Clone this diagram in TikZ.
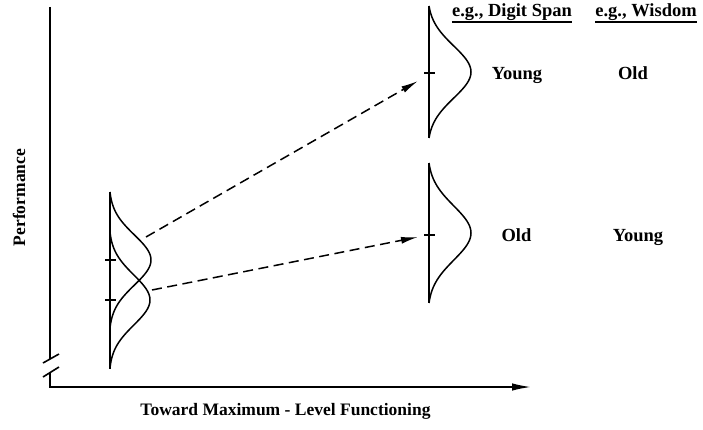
\documentclass[tikz,border=0pt]{standalone}
\usepackage{fontspec}
\setmainfont{Liberation Serif}
\usetikzlibrary{arrows.meta}
\tikzset{
  lab/.style={inner sep=0pt,font=\fontsize{18.5}{21}\selectfont\bfseries},
  axislab/.style={inner sep=0pt,font=\fontsize{17.5}{20}\selectfont\bfseries},
  % frame lines, bell curves and the dashed shifts
  axisline/.style={line width=1.6pt},
  curve/.style={line width=1.5pt,line join=round},
  shiftarr/.style={line width=1.5pt,dash pattern=on 10pt off 5.5pt,
    -{Latex[length=17pt,width=7pt]}},
  rule/.style={line width=1.3pt}
}

\begin{document}
\begin{tikzpicture}[x=1pt,y=-1pt,
  declare function={bell(\t,\s,\r)=(exp(-\t*\t/(2*\s*\s))-exp(-\r*\r/(2*\s*\s)))
    /(1-exp(-\r*\r/(2*\s*\s)));}]
\useasboundingbox (0,0) rectangle (703,430);
% ---------------- axes ----------------
\coordinate (ytop) at (50,7);   \coordinate (ybreak) at (50,359);
\coordinate (yrest) at (50,373); \coordinate (origin) at (50,387);
\coordinate (xend) at (531,387);
\draw[axisline] (ytop) -- (ybreak);
\draw[axisline,-{Latex[length=19pt,width=7.5pt]}] (yrest) -- (origin) -- (xend);
\draw[axisline] (43,363) -- (59,354);
\draw[axisline] (43,377) -- (59,367);
\node[axislab,rotate=90,anchor=base] (perf) at (25,197.5) {Performance};
\node[axislab,anchor=base] (toward) at (285.5,415) {Toward Maximum - Level Functioning};
% ---------------- left: overlapping distributions ----------------
\draw[curve] (110,192) -- (110,369);
\draw[curve] plot[domain=-68:68,samples=61] ({110+41*bell(\x,25,68)},{260+\x});
\draw[curve] plot[domain=-68:68,samples=61] ({110+40*bell(\x,25,68)},{300+\x});
\draw[curve] (105,260) -- (116,260);
\draw[curve] (105,300) -- (116,300);
% ---------------- right: separated distributions ----------------
\draw[curve] (429,6) -- (429,138);
\draw[curve] plot[domain=-66:66,samples=61] ({429+42*bell(\x,26,66)},{72+\x});
\draw[curve] (424,73) -- (435,73);
\draw[curve] (429,163) -- (429,303);
\draw[curve] plot[domain=-70:70,samples=61] ({429+42*bell(\x,27,70)},{233+\x});
\draw[curve] (424,235) -- (435,235);
% ---------------- dashed shifts ----------------
\coordinate (hiStart) at (146,237); \coordinate (hiEnd) at (418,81);
\coordinate (loStart) at (152,290); \coordinate (loEnd) at (418,237);
\draw[shiftarr] (hiStart) -- (hiEnd);
\draw[shiftarr] (loStart) -- (loEnd);
% ---------------- group labels ----------------
\node[lab,anchor=base] (dspan) at (512,17) {e.g., Digit Span};
\node[lab,anchor=base] (wisdom) at (646,17) {e.g., Wisdom};
\draw[rule] ([yshift=-5pt]dspan.base west) -- ([yshift=-5pt]dspan.base east);
\draw[rule] ([yshift=-5pt]wisdom.base west) -- ([yshift=-5pt]wisdom.base east);
\node[lab,anchor=base] (youngHi) at (517,80) {Young};
\node[lab,anchor=base] (oldHi) at (633,80) {Old};
\node[lab,anchor=base] (oldLo) at (516.5,241) {Old};
\node[lab,anchor=base] (youngLo) at (638,241) {Young};
\end{tikzpicture}
\end{document}
